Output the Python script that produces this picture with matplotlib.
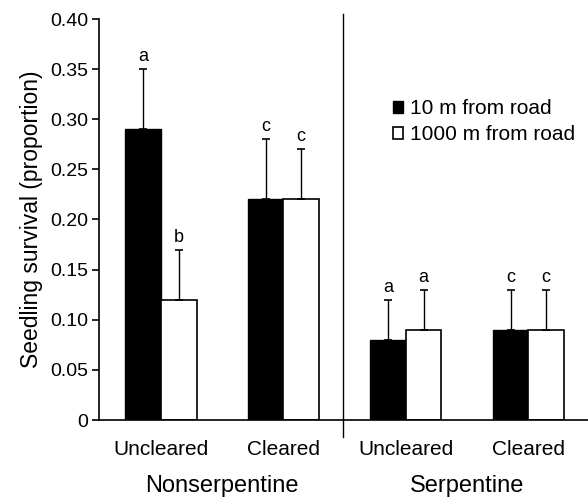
import matplotlib
matplotlib.use("Agg")
import matplotlib.pyplot as plt
import numpy as np

plt.rcParams['font.family'] = ['Liberation Sans', 'DejaVu Sans']

categories = ["Uncleared", "Cleared", "Uncleared", "Cleared"]
groups = ["Nonserpentine", "Serpentine"]
near_vals = [0.29, 0.22, 0.08, 0.09]
near_err = [0.06, 0.06, 0.04, 0.04]
far_vals = [0.12, 0.22, 0.09, 0.09]
far_err = [0.05, 0.05, 0.04, 0.04]
near_letters = ["a", "c", "a", "c"]
far_letters = ["b", "c", "a", "c"]
series = ["10 m from road", "1000 m from road"]
yticks = [0, 0.05, 0.10, 0.15, 0.20, 0.25, 0.30, 0.35, 0.40]
ytick_labels = ["0", "0.05", "0.10", "0.15", "0.20", "0.25", "0.30", "0.35", "0.40"]

fig = plt.figure(figsize=(5.88, 4.98), dpi=100)
ax = fig.add_axes([99/588, 1-420/498, 1-99/588, (420-19)/498])

x = np.arange(len(categories))
w = 0.29
ekw = dict(elinewidth=1.0, capsize=3, capthick=1.2, ecolor='black')
b1 = ax.bar(x - w/2, near_vals, w, color='black', edgecolor='black', linewidth=1,
            yerr=[np.zeros(4), near_err], error_kw=ekw, label=series[0])
b2 = ax.bar(x + w/2, far_vals, w, color='white', edgecolor='black', linewidth=1.2,
            yerr=[np.zeros(4), far_err], error_kw=ekw, label=series[1])

for i in range(len(x)):
    ax.text(x[i] - w/2, near_vals[i] + near_err[i] + 0.008, near_letters[i],
            ha='center', va='baseline', fontsize=13)
    ax.text(x[i] + w/2, far_vals[i] + far_err[i] + 0.008, far_letters[i],
            ha='center', va='baseline', fontsize=13)

ax.set_xlim(-0.506, 3.486)
ax.set_ylim(0, 0.40)
ax.set_yticks(yticks)
ax.set_yticklabels(ytick_labels)
ax.set_xticks([])
for s in ['top', 'right']:
    ax.spines[s].set_visible(False)
ax.spines['left'].set_linewidth(1.2)
ax.spines['bottom'].set_linewidth(1.2)
ax.tick_params(axis='y', length=5, width=1.2, pad=3, labelsize=14)
ax.set_ylabel("Seedling survival (proportion)", fontsize=16.5, labelpad=5)

# divider
ax.plot([1.486, 1.486], [-0.017, 0.405], color='black', lw=1.0, clip_on=False)

for i, c in enumerate(categories):
    ax.text(x[i], -0.0349, c, ha='center', va='baseline', fontsize=15)
ax.text((x[0] + x[1]) / 2, -0.0718, groups[0], ha='center', va='baseline', fontsize=17)
ax.text((x[2] + x[3]) / 2, -0.0718, groups[1], ha='center', va='baseline', fontsize=17)

ax.legend(handles=[b1, b2], labels=series, loc='upper left', bbox_to_anchor=(0.601, 0.80),
          frameon=False, fontsize=15, handlelength=0.5, handleheight=0.5,
          handletextpad=0.3, labelspacing=0.35, borderaxespad=0, borderpad=0)

fig.savefig("out.png", dpi=100)
